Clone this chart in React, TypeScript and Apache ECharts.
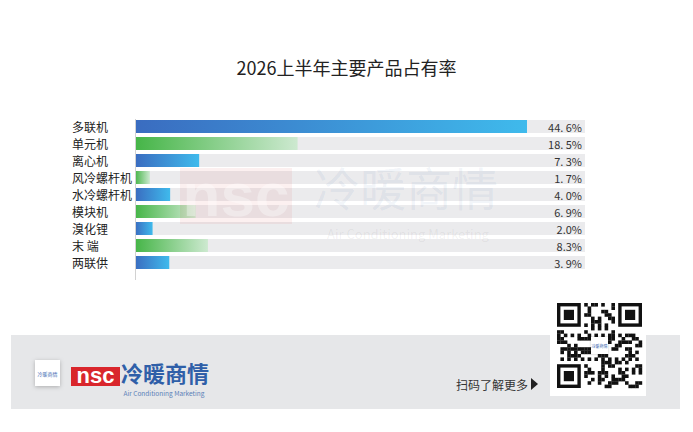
import React, { useEffect, useRef } from "react";
import * as echarts from "echarts";

const categories = ["多联机", "单元机", "离心机", "风冷螺杆机", "水冷螺杆机", "模块机", "溴化锂", "末 端", "两联供"];
const shares = [44.6, 18.5, 7.3, 1.7, 4.0, 6.9, 2.0, 8.3, 3.9];
const shareLabels = ["44. 6%", "18. 5%", "7. 3%", "1. 7%", "4. 0%", "6. 9%", "2.0%", "8.3%", "3. 9%"];
const axisMax = 51.2;
const titleText = "2026上半年主要产品占有率";
const brandName = "冷暖商情";
const brandSub = "Air Conditioning Marketing";
const footerText = "扫码了解更多";

const FONT = '"Noto Sans CJK SC", "Noto Sans", sans-serif';

const blueGrad = () =>
  new echarts.graphic.LinearGradient(0, 0, 1, 0, [
    { offset: 0, color: "#3a6cc0" },
    { offset: 1, color: "#3fbaec" },
  ]);
const greenGrad = () =>
  new echarts.graphic.LinearGradient(0, 0, 1, 0, [
    { offset: 0, color: "#45b547" },
    { offset: 1, color: "#cde9d0" },
  ]);

function qrElements(): any[] {
  const N = 25;
  const x0 = 557;
  const y0 = 303;
  const s = 3.4;
  const els: any[] = [];
  const inFinder = (r: number, c: number) =>
    (r < 8 && c < 8) || (r < 8 && c >= N - 8) || (r >= N - 8 && c < 8);
  for (let r = 0; r < N; r++) {
    for (let c = 0; c < N; c++) {
      if (inFinder(r, c)) continue;
      if (r >= 10 && r <= 14 && c >= 10 && c <= 14) continue;
      const h = (r * 31 + c * 17 + ((r * c) % 7) * 5 + (r ^ c)) % 11;
      if (h < 5) {
        els.push({ type: "rect", shape: { x: x0 + c * s, y: y0 + r * s, width: s + 0.2, height: s + 0.2 }, style: { fill: "#111" }, z: 20 });
      }
    }
  }
  const finder = (r: number, c: number) => {
    els.push({ type: "rect", shape: { x: x0 + c * s, y: y0 + r * s, width: 7 * s, height: 7 * s }, style: { fill: "#111" }, z: 20 });
    els.push({ type: "rect", shape: { x: x0 + (c + 1) * s, y: y0 + (r + 1) * s, width: 5 * s, height: 5 * s }, style: { fill: "#fff" }, z: 21 });
    els.push({ type: "rect", shape: { x: x0 + (c + 2) * s, y: y0 + (r + 2) * s, width: 3 * s, height: 3 * s }, style: { fill: "#111" }, z: 22 });
  };
  finder(0, 0);
  finder(0, N - 7);
  finder(N - 7, 0);
  els.push({ type: "rect", shape: { x: x0 + 10 * s, y: y0 + 10 * s, width: 5 * s, height: 5 * s }, style: { fill: "#fff", shadowBlur: 2, shadowColor: "rgba(0,0,0,0.25)" }, z: 23 });
  els.push({ type: "text", x: x0 + 12.5 * s, y: y0 + 12.5 * s, style: { text: brandName, fill: "#3b66b0", fontSize: 4, fontFamily: FONT, align: "center", verticalAlign: "middle" }, z: 24 });
  return els;
}

export default function App() {
  const ref = useRef<HTMLDivElement>(null);
  useEffect(() => {
    document.body.style.margin = "0";
    const chart = echarts.init(ref.current!, null, { renderer: "svg" });
    const option: any = {
      animation: false,
      backgroundColor: "#ffffff",
      title: {
        text: titleText,
        left: "center",
        top: 53,
        textStyle: { fontFamily: FONT, fontSize: 18, fontWeight: "normal", color: "#222" },
      },
      grid: { left: 135, right: 108, top: 118, height: 153, containLabel: false },
      xAxis: { type: "value", min: 0, max: axisMax, show: false },
      yAxis: {
        type: "category",
        inverse: true,
        data: categories,
        axisLine: { show: false },
        axisTick: { show: false },
        axisLabel: { align: "left", margin: 63, color: "#222", fontSize: 12, fontFamily: FONT },
      },
      series: [
        {
          type: "bar",
          silent: true,
          barWidth: 13,
          data: categories.map(() => axisMax),
          itemStyle: { color: "#ebebed" },
          label: {
            show: true,
            position: "insideRight",
            distance: 3,
            formatter: (p: any) => shareLabels[p.dataIndex],
            color: "#333",
            fontSize: 11,
            fontFamily: FONT,
          },
          z: 1,
        },
        {
          type: "bar",
          barWidth: 13,
          barGap: "-100%",
          data: shares.map((v, i) => ({ value: v, itemStyle: { color: i % 2 === 0 ? blueGrad() : greenGrad() } })),
          z: 2,
        },
      ],
      graphic: [
        { type: "line", shape: { x1: 135.5, y1: 119, x2: 135.5, y2: 280 }, style: { stroke: "#d2d2d2", lineWidth: 1 }, z: 5 },
        // watermark
        { type: "rect", shape: { x: 180, y: 168, width: 112, height: 56 }, style: { fill: "#d9262c", opacity: 0.07 }, z: 30, silent: true },
        { type: "text", x: 236, y: 194, style: { text: "nsc", fill: "#ffffff", fontSize: 62, fontWeight: "bold", fontFamily: '"Liberation Sans", Arial', align: "center", verticalAlign: "middle", opacity: 0.35 }, z: 31, silent: true },
        { type: "text", x: 406, y: 186, style: { text: brandName, fill: "#2f5fa8", fontSize: 46, fontFamily: FONT, align: "center", verticalAlign: "middle", opacity: 0.08 }, z: 30, silent: true },
        { type: "text", x: 408, y: 233, style: { text: brandSub, fill: "#555", fontSize: 13, fontFamily: FONT, align: "center", verticalAlign: "middle", opacity: 0.08 }, z: 30, silent: true },
        // footer band
        { type: "rect", shape: { x: 11, y: 335, width: 669, height: 74 }, style: { fill: "#e6e7e9" }, z: 10 },
        { type: "rect", shape: { x: 550, y: 298, width: 96, height: 98 }, style: { fill: "#ffffff" }, z: 15 },
        { type: "rect", shape: { x: 35, y: 360, width: 25, height: 26 }, style: { fill: "#ffffff", shadowBlur: 4, shadowColor: "rgba(0,0,0,0.25)", shadowOffsetY: 1 }, z: 15 },
        { type: "text", x: 47.5, y: 373, style: { text: brandName, fill: "#3b66b0", fontSize: 5, fontFamily: FONT, align: "center", verticalAlign: "middle" }, z: 16 },
        { type: "rect", shape: { x: 71, y: 367, width: 49, height: 19 }, style: { fill: "#d9262c" }, z: 15 },
        { type: "text", x: 95.5, y: 375, style: { text: "nsc", fill: "#ffffff", fontSize: 22, fontWeight: "bold", fontFamily: '"Liberation Sans", Arial', align: "center", verticalAlign: "middle" }, z: 16 },
        { type: "text", x: 165, y: 372, style: { text: brandName, fill: "#2f5fa8", fontSize: 22, fontWeight: "bold", fontFamily: FONT, align: "center", verticalAlign: "middle" }, z: 16 },
        { type: "text", x: 164, y: 393, style: { text: brandSub, fill: "#5a7fb8", fontSize: 6.5, fontFamily: FONT, align: "center", verticalAlign: "middle" }, z: 16 },
        { type: "text", x: 492, y: 384, style: { text: footerText, fill: "#333", fontSize: 12, fontFamily: FONT, align: "center", verticalAlign: "middle" }, z: 16 },
        { type: "polygon", shape: { points: [[531, 378], [531, 390], [538, 384]] }, style: { fill: "#222" }, z: 16 },
        ...qrElements(),
      ],
    };
    chart.setOption(option);
    return () => chart.dispose();
  }, []);
  return <div ref={ref} style={{ width: 693, height: 432 }} />;
}
